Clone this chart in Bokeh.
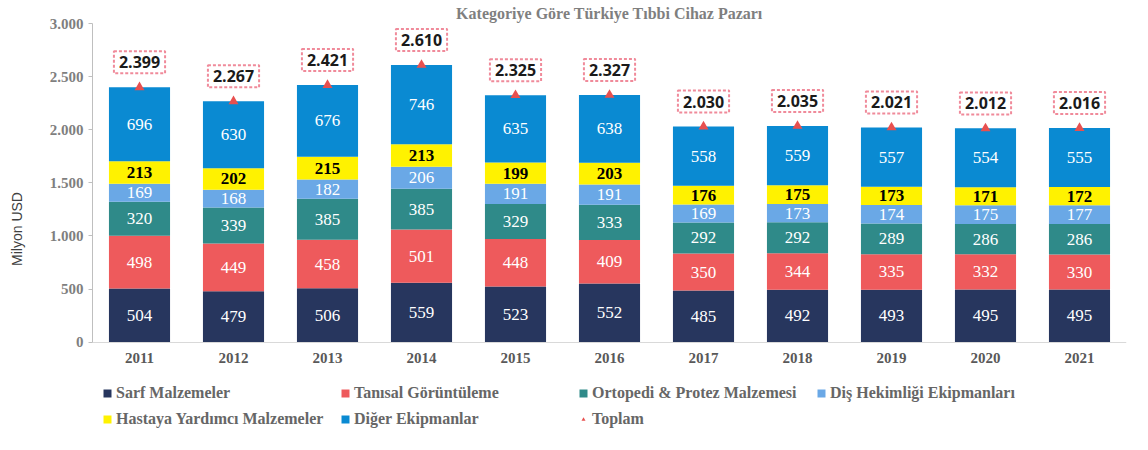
import numpy as np
from bokeh.plotting import figure
from bokeh.models import (ColumnDataSource, FactorRange, LabelSet, Label, Legend, LegendItem,
                          CustomJSTickFormatter, FixedTicker, Title)
from bokeh.core.properties import value
from bokeh.embed import file_html
from bokeh.resources import INLINE

years = ["2011", "2012", "2013", "2014", "2015", "2016", "2017", "2018", "2019", "2020", "2021"]
sarf = [504, 479, 506, 559, 523, 552, 485, 492, 493, 495, 495]
tanisal = [498, 449, 458, 501, 448, 409, 350, 344, 335, 332, 330]
ortopedi = [320, 339, 385, 385, 329, 333, 292, 292, 289, 286, 286]
dis = [169, 168, 182, 206, 191, 191, 169, 173, 174, 175, 177]
hastaya = [213, 202, 215, 213, 199, 203, 176, 175, 173, 171, 172]
diger = [696, 630, 676, 746, 635, 638, 558, 559, 557, 554, 555]
toplam = [2399, 2267, 2421, 2610, 2325, 2327, 2030, 2035, 2021, 2012, 2016]

series_names = ["Sarf Malzemeler", "Tanısal Görüntüleme", "Ortopedi & Protez Malzemesi",
                "Diş Hekimliği Ekipmanları", "Hastaya Yardımcı Malzemeler", "Diğer Ekipmanlar"]
keys = ["sarf", "tanisal", "ortopedi", "dis", "hastaya", "diger"]
colors = ["#27365E", "#EE5A5C", "#2F8A89", "#6AA8E6", "#FFF200", "#0A8AD2"]
label_colors = ["white", "white", "white", "white", "black", "white"]
series = [sarf, tanisal, ortopedi, dis, hastaya, diger]

toplam_txt = [f"{v // 1000}.{v % 1000:03d}" for v in toplam]
data = {"years": years, "toplam": toplam}
for k, s in zip(keys, series):
    data[k] = s
source = ColumnDataSource(data)

# y range extends below zero to leave room for the axis labels and legend inside the frame
p = figure(x_range=FactorRange(*years, range_padding=0.0), y_range=(-870, 3000),
           width=1132, height=434, output_backend="svg", toolbar_location=None,
           min_border_left=92, min_border_right=6, min_border_top=0, min_border_bottom=0)

title = Title(text="Kategoriye Göre Türkiye Tıbbi Cihaz Pazarı", align="center",
              text_font="Liberation Serif", text_font_size="16px", text_color="#7F7F7F",
              text_font_style="bold", standoff=4)
p.add_layout(title, "above")

renderers = p.vbar_stack(keys, x="years", width=0.65, source=source, color=colors, line_color=None)

# segment labels
arr = np.array(series, dtype=float)
cum = np.cumsum(arr, axis=0)
for i, k in enumerate(keys):
    mids = cum[i] - arr[i] / 2.0
    src = ColumnDataSource(dict(x=years, y=mids, t=[str(v) for v in series[i]]))
    lab = LabelSet(x="x", y="y", text="t", source=src, text_align="center", text_baseline="middle",
                   text_font=value("Liberation Serif"), text_font_size="17px",
                   text_color=label_colors[i],
                   text_font_style="bold" if label_colors[i] == "black" else "normal")
    p.add_layout(lab)

tri = p.scatter(x="years", y="toplam", source=source, marker="triangle", size=10,
                color="#E8504F", line_color=None)

# categorical factors sit at synthetic coordinates 0.5, 1.5, ...
for idx, (v, t) in enumerate(zip(toplam, toplam_txt)):
    lb = Label(x=idx + 0.5, y=v, text=t, text_align="center", text_baseline="bottom", y_offset=14,
               text_font="Open Sans", text_font_size="16px", text_font_style="bold",
               text_color="#1A1A1A", background_fill_color="white",
               border_line_color="#F08A9A", border_line_dash="3 2", border_line_width=2,
               padding=5)
    p.add_layout(lb)

items = [LegendItem(label=n, renderers=[r]) for n, r in zip(series_names, renderers)]
items.append(LegendItem(label="Toplam", renderers=[tri]))

def make_legend(its, loc):
    return Legend(items=its, orientation="horizontal", location=loc,
                  label_text_font="Liberation Serif", label_text_font_size="16px",
                  label_text_font_style="bold", label_text_color="#666666",
                  glyph_width=10, glyph_height=10, label_standoff=4, spacing=6,
                  label_width=218, padding=1, margin=0, border_line_color=None,
                  background_fill_alpha=0, label_height=18)

p.add_layout(make_legend(items[:4], (10, 32)))
p.add_layout(make_legend(items[4:], (10, 6)))

p.yaxis.ticker = FixedTicker(ticks=[0, 500, 1000, 1500, 2000, 2500, 3000])
p.yaxis.bounds = (0, 3000)
p.yaxis.formatter = CustomJSTickFormatter(code="return String(tick).replace(/\\B(?=(\\d{3})+(?!\\d))/g, '.');")
p.yaxis.axis_label = "Milyon USD"
p.yaxis.axis_label_standoff = 22
p.yaxis.axis_label_text_font = "Liberation Sans"
p.yaxis.axis_label_text_font_style = "normal"
p.yaxis.axis_label_text_font_size = "14px"
p.yaxis.axis_label_text_color = "#404040"
p.yaxis.major_label_text_font = "Liberation Serif"
p.yaxis.major_label_text_font_style = "bold"
p.yaxis.major_label_text_font_size = "15px"
p.yaxis.major_label_text_color = "#7F7F7F"
p.yaxis.axis_line_color = "#BFBFBF"
p.yaxis.major_tick_line_color = "#BFBFBF"
p.yaxis.major_tick_in = 0
p.yaxis.major_tick_out = 4
p.yaxis.minor_tick_line_color = None

p.xaxis.fixed_location = 0
p.xaxis.major_label_text_font = "Liberation Serif"
p.xaxis.major_label_text_font_style = "bold"
p.xaxis.major_label_text_font_size = "15px"
p.xaxis.major_label_text_color = "#595959"
p.xaxis.axis_line_color = "#D9D9D9"
p.xaxis.major_tick_line_color = None
p.xaxis.minor_tick_line_color = None

p.xgrid.grid_line_color = None
p.ygrid.grid_line_color = None
p.outline_line_color = None

open("out.html", "w").write(file_html(p, INLINE))
